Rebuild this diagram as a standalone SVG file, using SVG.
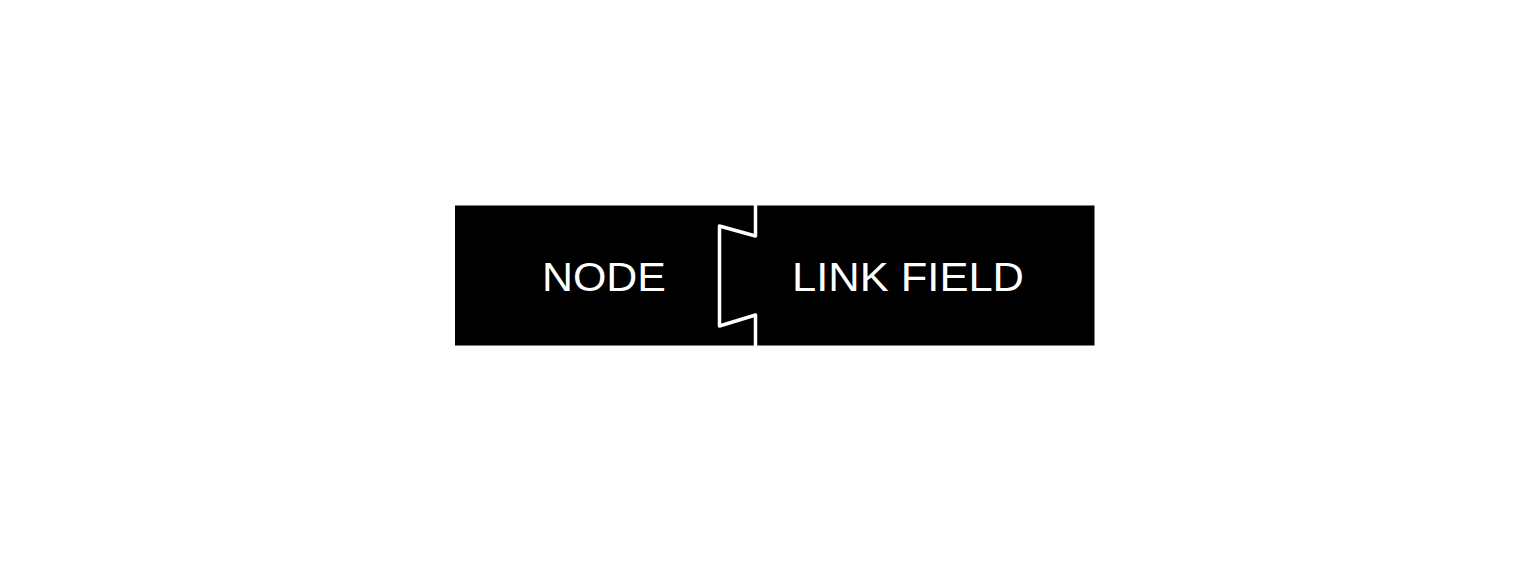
<svg xmlns="http://www.w3.org/2000/svg" width="1514" height="577" viewBox="0 0 1514 577">
<style>
.lbl{font-family:"Liberation Sans",Arial,sans-serif;font-size:40px;fill:#fff;text-anchor:middle}
.sep{fill:none;stroke:#fff;stroke-width:3.5;stroke-linejoin:round}
</style>
<rect x="0" y="0" width="1514" height="577" fill="#fff"/>
<g id="node">
<rect x="455" y="205.5" width="300" height="140" fill="#000"/>
<text class="lbl" x="604" y="291" textLength="124" lengthAdjust="spacingAndGlyphs">NODE</text>
</g>
<g id="link-field">
<rect x="755" y="205.5" width="339.5" height="140" fill="#000"/>
<text class="lbl" x="908" y="291" textLength="232" lengthAdjust="spacingAndGlyphs">LINK FIELD</text>
</g>
<g id="connectors">
<polyline class="sep" points="755.5,205 755.5,236 719.5,226 719.5,326 755.5,315 755.5,346"/>
</g>
</svg>
